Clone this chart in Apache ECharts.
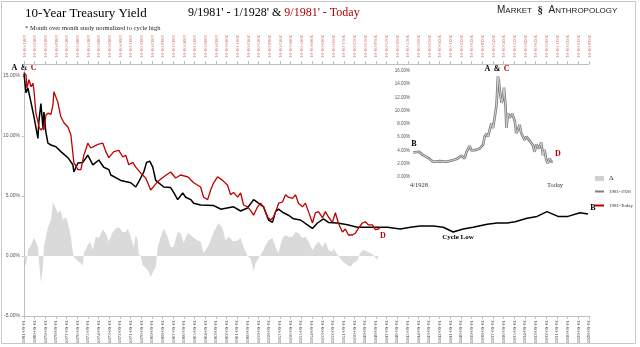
<!DOCTYPE html>
<html><head><meta charset="utf-8">
<script src="https://cdn.jsdelivr.net/npm/echarts@6/dist/echarts.min.js"></script>
<style>html,body{margin:0;padding:0;background:#fff}#c{width:640px;height:347px}</style>
</head><body><div id="c"></div>
<script>
// Tick labels (one per year)
const bottomTickLabels = ['1981-09-01','1980-09-01','1979-09-01','1978-09-01','1977-09-01','1976-09-01','1975-09-01','1974-09-01','1973-09-01','1972-09-01','1971-09-01','1970-09-01','1969-09-01','1968-09-01','1967-09-01','1966-09-01','1965-09-01','1964-09-01','1963-09-01','1962-09-01','1961-09-01','1960-09-01','1959-09-01','1958-09-01','1957-09-01','1956-09-01','1955-09-01','1954-09-01','1953-09-01','1952-09-01','1951-09-01','1950-09-01','1949-09-01','1948-09-01','1947-09-01','1946-09-01','1945-09-01','1944-09-01','1943-09-01','1942-09-01','1941-09-01','1940-09-01','1939-09-01','1938-09-01','1937-09-01','1936-09-01','1935-09-01','1934-09-01','1933-09-01','1932-09-01','1931-09-01','1930-09-01','1929-09-01','1928-09-01'];
const topTickLabels = ['1981-09-01','1982-09-01','1983-09-01','1984-09-01','1985-09-01','1986-09-01','1987-09-01','1988-09-01','1989-09-01','1990-09-01','1991-09-01','1992-09-01','1993-09-01','1994-09-01','1995-09-01','1996-09-01','1997-09-01','1998-09-01','1999-09-01','2000-09-01','2001-09-01','2002-09-01','2003-09-01','2004-09-01','2005-09-01','2006-09-01','2007-09-01','2008-09-01','2009-09-01','2010-09-01','2011-09-01','2012-09-01','2013-09-01','2014-09-01','2015-09-01','2016-09-01','2017-09-01','2018-09-01','2019-09-01','2020-09-01','2021-09-01','2022-09-01','2023-09-01','2024-09-01','2025-09-01','2026-09-01','2027-09-01','2028-09-01','2029-09-01','2030-09-01','2031-09-01','2032-09-01','2033-09-01','2034-09-01'];

// [years since 9/1981, yield %]  — black: 9/1981 going back to 1/1928
const black1981to1928 = [[0,15.2],[0.19,13.6],[0.37,14.0],[0.66,12.8],[0.94,11.6],[1.31,9.8],[1.4,11.2],[1.59,12.7],[1.78,10.7],[1.87,12.0],[2.06,10.3],[2.25,9.4],[2.53,9.25],[3.0,9.1],[3.46,8.7],[4.12,8.2],[4.59,7.6],[4.68,7.0],[5.06,7.75],[5.52,7.8],[5.99,8.4],[6.46,7.6],[7.02,8.0],[7.49,7.4],[7.96,7.2],[8.15,6.75],[9.08,6.3],[10.02,6.1],[10.49,5.75],[10.77,6.2],[11.24,7.0],[11.5,7.8],[11.8,7.9],[12.08,7.4],[12.36,6.3],[13.11,5.75],[13.76,5.7],[14.04,5.3],[14.42,4.7],[14.89,5.25],[15.17,4.9],[15.64,4.7],[15.92,4.4],[16.57,4.25],[17.79,4.2],[18.26,4.0],[18.45,3.9],[19.66,4.1],[20.32,3.75],[20.97,4.0],[21.54,4.7],[22.0,4.4],[22.47,4.1],[22.94,3.0],[23.31,2.8],[23.6,3.7],[23.88,3.9],[24.34,3.6],[24.81,3.4],[25.28,3.1],[25.94,3.0],[26.59,2.6],[27.06,2.3],[27.53,2.75],[28.09,3.1],[28.56,2.8],[29.4,2.75],[30.34,2.6],[31.27,2.4],[32.21,2.4],[33.15,2.4],[34.08,2.4],[35.3,2.25],[36.24,2.4],[37.17,2.5],[38.39,2.5],[39.33,2.4],[40.26,2.0],[41.2,2.25],[42.13,2.4],[43.45,2.65],[44.38,2.75],[45.32,2.75],[46.07,2.85],[47.19,3.15],[48.13,3.3],[49.06,3.7],[50.09,3.3],[51.03,3.3],[52.15,3.6],[52.9,3.5]];

// red: 9/1981 forward to today
const red1981toToday = [[0,15.3],[0.19,15.1],[0.28,14.0],[0.47,14.7],[0.66,14.1],[0.84,14.4],[0.94,13.8],[1.12,11.9],[1.31,11.2],[1.4,10.75],[1.59,10.5],[1.78,10.7],[1.87,10.5],[2.06,11.75],[2.25,11.9],[2.53,11.8],[2.72,12.6],[2.81,13.7],[3.18,12.8],[3.46,11.6],[3.75,11.1],[4.12,10.75],[4.4,10.1],[4.68,7.8],[5.06,7.2],[5.34,7.2],[5.62,8.4],[5.99,9.4],[6.27,9.0],[6.93,9.3],[7.4,9.4],[7.68,8.7],[7.96,8.2],[8.43,8.7],[8.9,8.8],[9.27,8.25],[9.55,8.4],[9.83,7.6],[10.21,7.8],[10.49,7.4],[10.96,6.9],[11.42,6.5],[11.89,5.5],[12.17,5.8],[12.55,6.2],[13.11,6.6],[13.76,7.0],[14.23,6.5],[14.7,6.75],[15.36,6.6],[15.92,6.1],[16.57,5.75],[16.85,4.9],[17.23,4.7],[17.51,5.5],[17.79,6.1],[18.16,6.6],[18.26,6.7],[18.63,6.3],[19.1,5.9],[19.38,5.1],[19.66,5.3],[20.04,4.9],[20.32,5.25],[20.6,4.25],[20.97,4.1],[21.25,3.8],[21.54,3.4],[21.91,4.1],[22.19,4.4],[22.47,4.1],[22.85,3.25],[23.13,3.0],[23.41,3.25],[23.78,4.1],[23.88,4.4],[24.25,4.5],[24.53,5.1],[24.81,4.9],[25.19,4.8],[25.47,5.1],[25.75,4.4],[26.12,4.1],[26.4,4.4],[26.69,3.7],[27.06,2.75],[27.34,3.6],[27.62,3.7],[28.0,3.2],[28.28,3.7],[28.56,3.25],[28.93,2.8],[29.21,3.6],[29.49,2.75],[29.87,2.0],[30.15,2.25],[30.43,1.75],[30.81,1.75],[31.09,1.9],[31.37,2.3],[31.74,2.75],[32.02,2.85],[32.3,2.6],[32.68,2.6],[32.96,2.2],[33.24,2.25],[33.43,2.4]];

// delta (red minus black, normalized)
const deltaValues = [[0,0],[0.19,-0.9],[0.37,0.5],[0.66,0.9],[0.94,1.5],[1.12,1.2],[1.31,0.7],[1.4,-0.35],[1.59,-2.2],[1.78,-0.9],[1.87,0.75],[2.06,1.6],[2.25,2.4],[2.53,3.0],[2.72,4.5],[2.81,4.4],[3.18,3.6],[3.46,3.8],[3.65,3.0],[3.93,3.25],[4.12,2.8],[4.4,1.6],[4.59,0.3],[4.68,-0.1],[5.15,-0.5],[5.34,-0.6],[5.52,-0.8],[5.62,0.25],[5.99,0.9],[6.18,1.2],[6.46,0.5],[6.74,1.6],[7.02,1.5],[7.4,2.2],[7.68,1.9],[7.96,1.2],[8.33,2.0],[8.61,2.3],[8.9,2.4],[9.27,2.0],[9.55,2.0],[9.74,2.3],[10.02,1.6],[10.3,0.75],[10.49,1.75],[10.67,1.3],[10.77,0.1],[10.96,0],[11.14,-0.75],[11.42,-1.0],[11.7,-1.3],[11.89,-1.75],[12.36,-0.9],[12.55,0.75],[12.83,1.6],[13.11,2.3],[13.48,1.6],[13.76,0.75],[14.04,0.75],[14.42,2.0],[14.7,1.9],[14.98,1.1],[15.36,1.9],[15.64,1.75],[15.92,1.5],[16.29,1.3],[16.57,1.2],[16.85,0.25],[17.23,0.75],[17.51,1.3],[17.79,2.0],[18.26,2.75],[18.63,2.3],[18.91,1.3],[19.19,1.6],[19.66,1.2],[20.04,1.3],[20.32,1.5],[20.6,0.75],[20.97,0],[21.25,-0.2],[21.44,-0.9],[21.54,-1.3],[21.72,-0.6],[22.0,-0.2],[22.38,0.35],[22.66,0.9],[22.94,1.3],[23.31,1.5],[23.6,0.75],[23.88,0.25],[24.25,1.5],[24.53,1.75],[24.81,1.6],[25.19,1.6],[25.47,2.0],[25.75,1.9],[26.12,1.5],[26.4,1.6],[26.69,1.2],[27.06,0.5],[27.34,0.9],[27.62,1.2],[28.0,0.75],[28.28,1.2],[28.56,0.5],[28.93,0.35],[29.03,0.65],[29.4,0.1],[29.68,-0.2],[29.96,-0.5],[30.34,-0.75],[30.62,-0.9],[30.9,-0.6],[31.27,-0.35],[31.55,0.25],[31.83,0.5],[32.21,0.35],[32.49,0.25],[32.77,0.1],[33.15,-0.35],[33.24,-0.5]];

// Inset: full 10-year yield history [year, %]
const insetHistory = [[1928.5,3.7],[1932.2,3.8],[1934.7,3.3],[1937.9,2.9],[1941.0,2.3],[1942.0,2.6],[1945.2,2.4],[1949.4,2.3],[1952.5,2.5],[1955.6,2.7],[1958.7,3.2],[1960.8,2.8],[1961.9,3.8],[1963.9,4.7],[1965.0,4.0],[1968.1,4.1],[1970.2,4.3],[1972.3,4.9],[1973.3,6.1],[1974.4,6.5],[1975.4,6.1],[1976.4,7.1],[1977.5,8.1],[1978.5,7.4],[1979.5,8.9],[1980.6,10.6],[1981.0,12.2],[1981.6,15.2],[1982.2,14.4],[1983.1,12.4],[1983.9,11.2],[1984.7,11.9],[1985.4,13.5],[1986.4,10.6],[1986.9,7.4],[1987.9,9.6],[1989.0,9.0],[1990.6,9.5],[1992.1,8.5],[1993.1,6.6],[1994.1,7.1],[1995.2,7.9],[1996.2,6.6],[1998.3,5.6],[1999.4,6.1],[2001.4,5.5],[2003.5,4.8],[2004.6,3.8],[2005.6,4.9],[2007.3,4.3],[2008.7,5.2],[2009.8,3.3],[2010.8,4.1],[2011.9,2.6],[2012.9,2.1],[2014.0,2.8],[2015.0,2.3],[2016.0,2.3]];

const SERIF = '"Liberation Serif", "DejaVu Serif", serif';
const SANS = '"Liberation Sans", sans-serif';
const chart = echarts.init(document.getElementById('c'), null, {renderer: 'canvas'});

const pct = v => v.toFixed(2) + '%';

chart.setOption({
  animation: false,
  backgroundColor: '#fff',
  title: [
    {text: '10-Year Treasury Yield', left: 25, top: 7, padding: 0,
     textStyle: {fontFamily: SERIF, fontSize: 13, fontWeight: 'normal', color: '#000'},
     subtext: '* Month over month study normalized to cycle high', itemGap: 5,
     subtextStyle: {fontFamily: SERIF, fontSize: 6.5, color: '#222'}},
    {text: "{k|9/1981' - 1/1928' & }{r|9/1981' - Today}", left: 188, top: 7, padding: 0,
     textStyle: {fontWeight: 'normal', rich: {
       k: {fontFamily: SERIF, fontSize: 12, fontWeight: 'normal', color: '#000'},
       r: {fontFamily: SERIF, fontSize: 12, fontWeight: 'normal', color: '#b00000'}}}},
    {text: '{b|M}{s|ARKET}{i|  §  }{b|A}{s|NTHROPOLOGY}', left: 497, top: 5, padding: 0,
     textStyle: {fontWeight: 'normal', rich: {
       b: {fontFamily: SANS, fontSize: 10, fontWeight: 'normal', color: '#222'},
       s: {fontFamily: SANS, fontSize: 8, fontWeight: 'normal', color: '#222'},
       i: {fontFamily: SERIF, fontSize: 11, fontWeight: 'bold', color: '#222'}}}}
  ],
  legend: [
    {orient: 'vertical', left: 595, top: 175, itemWidth: 9, itemHeight: 5, padding: 0,
     textStyle: {fontFamily: SERIF, fontSize: 7, color: '#222'},
     data: [{name: 'Δ', icon: 'rect', itemStyle: {color: '#d0d0d0'}}]},
    {orient: 'vertical', left: 595, top: 189, itemWidth: 9, itemHeight: 2, itemGap: 9, padding: 0,
     textStyle: {fontFamily: SERIF, fontSize: 5, color: '#333'},
     data: [
       {name: '1981-1928', icon: 'rect', itemStyle: {color: '#808080'}},
       {name: '1981-Today', icon: 'rect', itemStyle: {color: '#c00000'}}
     ]}
  ],
  grid: [
    {left: 23, right: 51, top: 64, bottom: 31},
    {left: 413, top: 71, width: 140, height: 106}
  ],
  xAxis: [
    {gridIndex: 0, type: 'value', position: 'bottom', min: 0, max: 53, interval: 1,
     axisLine: {onZero: false, lineStyle: {color: '#bfbfbf'}},
     axisTick: {show: true, length: 3, lineStyle: {color: '#bfbfbf'}},
     splitLine: {show: false},
     axisLabel: {rotate: 90, fontSize: 5, color: '#3a3a4a', margin: 4, fontFamily: SERIF,
                 formatter: v => bottomTickLabels[Math.round(v)] || ''}},
    {gridIndex: 0, type: 'value', position: 'top', min: 0, max: 53, interval: 1,
     axisLine: {onZero: false, lineStyle: {color: '#bfbfbf'}},
     axisTick: {show: true, length: 3, lineStyle: {color: '#bfbfbf'}},
     splitLine: {show: false},
     axisLabel: {rotate: 90, fontSize: 5, color: '#d46a6a', margin: 6, fontFamily: SERIF,
                 formatter: v => topTickLabels[Math.round(v)] || ''}},
    {gridIndex: 1, type: 'value', min: 1928.4, max: 2016.1, show: false}
  ],
  yAxis: [
    {gridIndex: 0, type: 'value', min: -5, max: 16, interval: 5,
     axisLine: {show: true, lineStyle: {color: '#bfbfbf'}},
     axisTick: {show: true, length: 2, lineStyle: {color: '#bfbfbf'}},
     splitLine: {show: false},
     axisLabel: {fontSize: 5, color: '#555', margin: 4, showMaxLabel: false, formatter: pct}},
    {gridIndex: 1, type: 'value', min: 0, max: 16, interval: 2,
     axisLine: {show: false}, axisTick: {show: false}, splitLine: {show: false},
     axisLabel: {fontSize: 4.5, color: '#555', margin: 3, formatter: pct}}
  ],
  series: [
    {name: 'Δ', type: 'line', xAxisIndex: 0, yAxisIndex: 0, data: deltaValues, symbol: 'none',
     lineStyle: {width: 0}, areaStyle: {color: '#dadada', opacity: 1}, z: 1},
    {name: '1981-1928', type: 'line', xAxisIndex: 0, yAxisIndex: 0, data: black1981to1928, symbol: 'none',
     lineStyle: {color: '#000', width: 1.5}, z: 3},
    {name: '1981-Today', type: 'line', xAxisIndex: 0, yAxisIndex: 0, data: red1981toToday, symbol: 'none',
     lineStyle: {color: '#c00000', width: 1.3}, z: 4},
    {name: 'History', type: 'line', xAxisIndex: 2, yAxisIndex: 1, data: insetHistory, symbol: 'none',
     lineStyle: {color: '#7a7a7a', width: 2.6}, z: 3},
    {name: 'History inner', type: 'line', xAxisIndex: 2, yAxisIndex: 1, data: insetHistory, symbol: 'none',
     lineStyle: {color: '#d6d6d6', width: 1}, z: 4}
  ],
  graphic: [
    {type: 'rect', shape: {x: 1.5, y: 1.5, width: 634, height: 342}, style: {fill: null, stroke: '#c8c8c8', lineWidth: 1}, silent: true, z: -1},
    {type: 'text', x: 24, y: 68, style: {text: '{a|A} {a|&} {c|C}', align: 'center', verticalAlign: 'middle',
      rich: {a: {font: 'bold 8px ' + SERIF, fill: '#000'}, c: {font: 'bold 8px ' + SERIF, fill: '#c00000'}}}},
    {type: 'text', x: 383, y: 236, style: {text: 'D', font: 'bold 8px ' + SERIF, fill: '#c00000', align: 'center', verticalAlign: 'middle'}},
    {type: 'text', x: 458, y: 237, style: {text: 'Cycle Low', font: 'bold 7px ' + SERIF, fill: '#000', align: 'center', verticalAlign: 'middle'}},
    {type: 'text', x: 593, y: 208, style: {text: 'B', font: 'bold 8px ' + SERIF, fill: '#000', align: 'center', verticalAlign: 'middle'}},
    {type: 'text', x: 497, y: 69, style: {text: '{a|A} {a|&} {c|C}', align: 'center', verticalAlign: 'middle',
      rich: {a: {font: 'bold 8px ' + SERIF, fill: '#000'}, c: {font: 'bold 8px ' + SERIF, fill: '#c00000'}}}},
    {type: 'text', x: 414, y: 144, style: {text: 'B', font: 'bold 8px ' + SERIF, fill: '#000', align: 'center', verticalAlign: 'middle'}},
    {type: 'text', x: 558, y: 154, style: {text: 'D', font: 'bold 8px ' + SERIF, fill: '#c00000', align: 'center', verticalAlign: 'middle'}},
    {type: 'text', x: 419, y: 185, style: {text: '4/1928', font: '6.5px ' + SERIF, fill: '#333', align: 'center', verticalAlign: 'middle'}},
    {type: 'text', x: 555, y: 185, style: {text: 'Today', font: '6.5px ' + SERIF, fill: '#333', align: 'center', verticalAlign: 'middle'}}
  ]
});
</script>
</body></html>
